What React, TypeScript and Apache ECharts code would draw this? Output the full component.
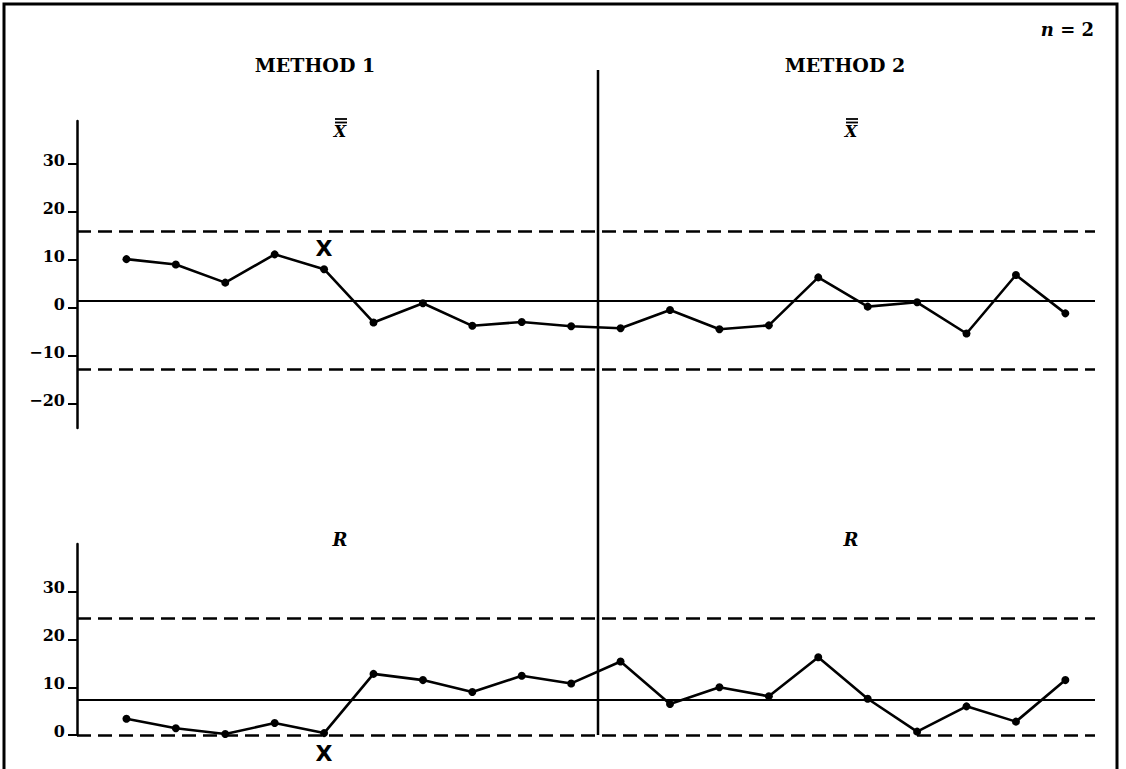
import { useEffect, useRef } from "react";
import * as echarts from "echarts";

// ---- data ----
const sampleNumbers = [1, 2, 3, 4, 5, 6, 7, 8, 9, 10, 11, 12, 13, 14, 15, 16, 17, 18, 19, 20];
const method1Xbar = [10.2, 9.1, 5.3, 11.2, 8.1, -3.0, 1.0, -3.7, -2.9, -3.8];
const method2Xbar = [-4.2, -0.4, -4.4, -3.6, 6.4, 0.3, 1.2, -5.3, 6.9, -1.1];
const method1Range = [3.4, 1.4, 0.2, 2.5, 0.4, 12.8, 11.5, 9.0, 12.4, 10.8];
const method2Range = [15.4, 6.5, 10.0, 8.1, 16.3, 7.6, 0.7, 6.0, 2.8, 11.5];
const xbarLimits = [16.0, 1.6, -12.8]; // UCL, CL, LCL
const rangeLimits = [24.5, 7.4, 0]; // UCL, CL, LCL
const xbarTicks = [-20, -10, 0, 10, 20, 30];
const rangeTicks = [0, 10, 20, 30];
const methodTitles = ["METHOD 1", "METHOD 2"];
const flaggedXbar = [5, 12.5];
const flaggedRange = [5, 0];

const SERIF = '"DejaVu Serif", "Liberation Serif", serif';

const fmt = (v: number) => (v < 0 ? "\u2212" + Math.abs(v) : String(v));

function yAxisFor(grid: number, min: number, max: number, ticks: number[]) {
  return {
    gridIndex: grid,
    type: "value",
    min,
    max,
    splitLine: { show: false },
    axisLine: { show: true, onZero: false, lineStyle: { color: "#000", width: 2.5 } },
    axisTick: {
      show: true,
      customValues: ticks,
      length: 9,
      lineStyle: { color: "#000", width: 2 },
    },
    axisLabel: {
      customValues: ticks,
      formatter: fmt,
      color: "#000",
      fontFamily: SERIF,
      fontWeight: "bold",
      fontSize: 16,
      margin: 12,
      verticalAlign: "bottom",
      lineHeight: 8,
    },
  };
}

function limitLines(limits: number[]) {
  const dashed = { color: "#000", width: 2.5, type: [14, 7] };
  return {
    silent: true,
    symbol: "none",
    label: { show: false },
    data: [
      { yAxis: limits[0], lineStyle: dashed },
      { yAxis: limits[1], lineStyle: { color: "#000", width: 2, type: "solid" } },
      { yAxis: limits[2], lineStyle: dashed },
    ],
  };
}

function flagMark(coord: number[], offsetY: number) {
  return {
    silent: true,
    symbol: "circle",
    symbolSize: 1,
    itemStyle: { color: "rgba(0,0,0,0)" },
    label: {
      show: true,
      position: "inside",
      offset: [0, offsetY],
      formatter: "X",
      color: "#000",
      fontFamily: '"DejaVu Sans", sans-serif',
      fontWeight: "bold",
      fontSize: 22,
    },
    data: [{ coord }],
  };
}

export default function App() {
  const ref = useRef<HTMLDivElement>(null);

  useEffect(() => {
    if (!ref.current) return;
    const chart = echarts.init(ref.current, undefined, { renderer: "svg" });
    const xbarAll = [...method1Xbar, ...method2Xbar];
    const rangeAll = [...method1Range, ...method2Range];

    const txt = (text: string, x: number, y: number, font: string, align = "center") => ({
      type: "text",
      x,
      y,
      style: {
        text,
        font,
        fill: "#000",
        align,
        verticalAlign: "middle",
        textAlign: align,
        textVerticalAlign: "middle",
      },
    });

    const barLine = (x1: number, x2: number, y: number) => ({
      type: "line",
      shape: { x1, y1: y, x2, y2: y },
      style: { stroke: "#000", lineWidth: 1.8 },
    });

    chart.setOption({
      animation: false,
      backgroundColor: "#fff",
      grid: [
        { left: 77, top: 121, width: 1018, height: 307 },
        { left: 77, top: 544, width: 1018, height: 191 },
      ],
      xAxis: [
        { gridIndex: 0, type: "value", min: 0, max: 20.6, show: false },
        { gridIndex: 1, type: "value", min: 0, max: 20.6, show: false },
      ],
      yAxis: [yAxisFor(0, -25, 39, xbarTicks), yAxisFor(1, 0, 40, rangeTicks)],
      series: [
        {
          type: "line",
          xAxisIndex: 0,
          yAxisIndex: 0,
          data: sampleNumbers.map((s, i) => [s, xbarAll[i]]),
          symbol: "circle",
          symbolSize: 8,
          lineStyle: { color: "#000", width: 2.6 },
          itemStyle: { color: "#000" },
          markLine: limitLines(xbarLimits),
          markPoint: flagMark(flaggedXbar, 0),
          z: 5,
        },
        {
          type: "line",
          xAxisIndex: 1,
          yAxisIndex: 1,
          data: sampleNumbers.map((s, i) => [s, rangeAll[i]]),
          symbol: "circle",
          symbolSize: 8,
          lineStyle: { color: "#000", width: 2.6 },
          itemStyle: { color: "#000" },
          markLine: limitLines(rangeLimits),
          markPoint: flagMark(flaggedRange, 18),
          clip: false,
          z: 5,
        },
      ],
      graphic: [
        {
          type: "rect",
          shape: { x: 4, y: 4, width: 1113, height: 800 },
          style: { fill: "none", stroke: "#000", lineWidth: 3 },
        },
        {
          type: "line",
          shape: { x1: 598, y1: 70, x2: 598, y2: 735 },
          style: { stroke: "#000", lineWidth: 2.5 },
        },
        txt(methodTitles[0], 315, 65, `bold 19px ${SERIF}`),
        txt(methodTitles[1], 845, 65, `bold 19px ${SERIF}`),
        {
          type: "text",
          x: 1094,
          y: 29,
          style: {
            text: "{i|n} = 2",
            font: `bold 18px ${SERIF}`,
            fill: "#000",
            align: "right",
            verticalAlign: "middle",
            textAlign: "right",
            textVerticalAlign: "middle",
            rich: { i: { font: `italic bold 18px ${SERIF}`, fill: "#000" } },
          },
        },
        txt("X", 340, 131, `italic bold 16px ${SERIF}`),
        barLine(335, 347, 119),
        barLine(335, 347, 122.5),
        txt("X", 851, 131, `italic bold 16px ${SERIF}`),
        barLine(846, 858, 119),
        barLine(846, 858, 122.5),
        txt("R", 340, 539, `italic bold 18px ${SERIF}`),
        txt("R", 851, 539, `italic bold 18px ${SERIF}`),
      ],
    });
    return () => chart.dispose();
  }, []);

  return (
    <div
      ref={ref}
      style={{ position: "absolute", left: 0, top: 0, width: 1126, height: 769 }}
    />
  );
}
